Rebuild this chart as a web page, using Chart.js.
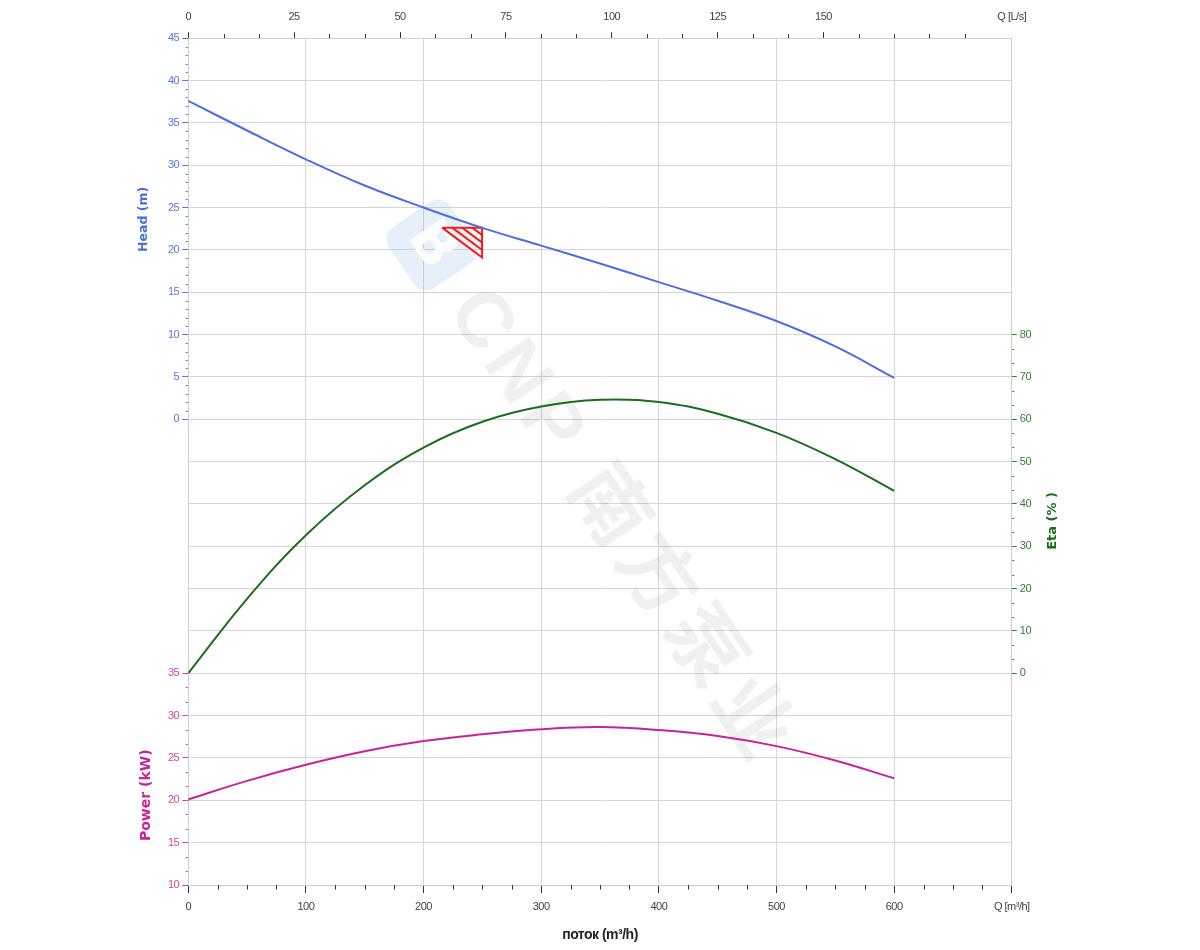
<!DOCTYPE html>
<html><head><meta charset="utf-8">
<script src="https://cdn.jsdelivr.net/npm/chart.js@4.4.1/dist/chart.umd.min.js"></script>
<style>html,body{margin:0;padding:0;background:#fff}#wrap{width:1200px;height:950px}</style>
</head><body><div id="wrap"><canvas id="c" width="1200" height="950"></canvas></div>
<script>
// ---- data ----
const flowM3h = [0, 50, 100, 150, 200, 250, 300, 350, 400, 450, 500, 550, 600];
const headM   = [37.6, 34.1, 30.7, 27.6, 25.0, 22.6, 20.5, 18.4, 16.2, 14.0, 11.6, 8.6, 4.9];
const etaPct  = [0, 17.6, 32.6, 44.4, 53.3, 59.4, 63.0, 64.6, 64.1, 61.3, 56.8, 50.6, 43.1];
const powerKW = [20.1, 22.3, 24.2, 25.8, 27.0, 27.8, 28.4, 28.65, 28.3, 27.6, 26.4, 24.7, 22.6];
// duty-point tolerance triangle (Q m3/h, H m) and its hatch lines
const triangleQ = [215.8, 249.8, 249.8, 215.8];
const triangleH = [22.63, 22.63, 19.09, 22.63];
const hatchQ = [[224.3, 249.8], [232.8, 249.8], [241.3, 249.8]];
const hatchH = [[22.63, 19.98], [22.63, 20.86], [22.63, 21.75]];
// tick labels
const flowTicks  = [0, 100, 200, 300, 400, 500, 600];
const lpsTicks   = [0, 25, 50, 75, 100, 125, 150];
const headTicks  = [0, 5, 10, 15, 20, 25, 30, 35, 40, 45];
const powerTicks = [10, 15, 20, 25, 30, 35];
const etaTicks   = [0, 10, 20, 30, 40, 50, 60, 70, 80];
const flowEndLabel = 'Q [m³/h]';
const lpsEndLabel = 'Q [L/s]';

// ---- axis ranges (stacked panels on one grid) ----
const FLOW_MAX = 700, LPS_MAX = 700 / 3.6;
const H_MIN = -55, H_MAX = 45, P_MIN = 10, P_MAX = 110, E_MIN = -50, E_MAX = 150;

// ---- styles ----
const C_HEAD = '#4a6fe3', C_HEAD_T = '#5577e0';
const C_ETA = '#1b6e1b', C_ETA_T = '#2f7f2f';
const C_POW = '#c8239a', C_POW_T = '#d0479f';
const C_RED = '#ee1c1c';
const GRID = '#d6d6d6';
function hasFont(name) {
  const c = document.createElement('canvas').getContext('2d');
  const s = 'abcdefghijklmnop0123456789';
  c.font = '20px monospace'; const w1 = c.measureText(s).width;
  c.font = "20px '" + name + "', monospace"; const w2 = c.measureText(s).width;
  return Math.abs(w1 - w2) > 0.5;
}
const HAS_NARROW = hasFont('Liberation Sans Narrow');
const NARROW = HAS_NARROW ? "'Liberation Sans Narrow',sans-serif" : "'Liberation Sans',Arial,sans-serif";
const SPACING = HAS_NARROW ? '0px' : '-0.5px';
const WIDE = "'DejaVu Sans',Verdana,sans-serif";

const pts = (xs, ys) => xs.map((x, i) => ({x, y: ys[i]}));
const curve = (label, ys, axis, color) => ({
  label, data: pts(flowM3h, ys), yAxisID: axis, borderColor: color, borderWidth: 2,
  pointRadius: 0, tension: 0.4, fill: false
});
const redLine = (xs, ys) => ({
  data: pts(xs, ys), yAxisID: 'yH', borderColor: C_RED, borderWidth: 2,
  pointRadius: 0, tension: 0, fill: false, borderJoinStyle: 'miter'
});

const datasets = [
  curve('Head', headM, 'yH', C_HEAD),
  curve('Eta', etaPct, 'yE', C_ETA),
  curve('Power', powerKW, 'yP', C_POW),
  redLine(triangleQ, triangleH),
  ...hatchQ.map((q, i) => redLine(q, hatchH[i]))
];

const spacing = {
  id: 'spacing',
  beforeLayout(chart) { chart.ctx.letterSpacing = SPACING; },
  beforeDraw(chart) { chart.ctx.letterSpacing = SPACING; }
};

const watermark = {
  id: 'watermark',
  beforeDatasetsDraw(chart) {
    const ctx = chart.ctx;
    ctx.save();
    ctx.letterSpacing = '0px';
    ctx.translate(432, 245);
    ctx.rotate(56 * Math.PI / 180);
    ctx.fillStyle = 'rgba(110,165,220,0.17)';
    ctx.beginPath();
    ctx.roundRect(-37, -37, 74, 74, 15);
    ctx.fill();
    ctx.fillStyle = 'rgba(255,255,255,0.85)';
    ctx.font = "bold 56px 'DejaVu Sans',sans-serif";
    ctx.textAlign = 'center'; ctx.textBaseline = 'middle';
    ctx.fillText('B', 0, 2);
    ctx.fillStyle = 'rgba(0,0,0,0.06)';
    ctx.textAlign = 'left';
    ctx.letterSpacing = '7px';
    ctx.font = "bold 78px 'Liberation Sans',Arial,'Noto Sans CJK SC',sans-serif";
    ctx.fillText('CNP 南方泵业', 62, 3);
    ctx.restore();
  }
};

const extras = {
  id: 'extras',
  afterDraw(chart) {
    const {ctx, chartArea: a, scales: s} = chart;
    ctx.save();
    ctx.letterSpacing = '0px';
    ctx.lineWidth = 1;
    const seg = (x1, y1, x2, y2) => { ctx.beginPath(); ctx.moveTo(x1, y1); ctx.lineTo(x2, y2); ctx.stroke(); };
    // bottom minor ticks every 25 m3/h
    ctx.strokeStyle = '#333';
    for (let v = 25; v < FLOW_MAX; v += 25) {
      if (v % 100 === 0) continue;
      const x = Math.round(s.x.getPixelForValue(v)) + 0.5;
      seg(x, a.bottom, x, a.bottom + 4.5);
    }
    // top minor ticks every 25/3 L/s
    for (let k = 1; k <= 22; k++) {
      if (k % 3 === 0 && k <= 18) continue;
      const x = Math.round(s.xTop.getPixelForValue(k * 25 / 3)) + 0.5;
      seg(x, a.top, x, a.top - 4);
    }
    // head minor ticks (1 m)
    ctx.strokeStyle = C_HEAD_T;
    for (let v = 1; v < 45; v++) {
      if (v % 5 === 0) continue;
      const y = Math.round(s.yH.getPixelForValue(v)) + 0.5;
      seg(a.left - 2.5, y, a.left - 0.5, y);
    }
    // power minor ticks (5/3 kW)
    ctx.strokeStyle = C_POW_T;
    for (let k = 1; k < 15; k++) {
      if (k % 3 === 0) continue;
      const y = Math.round(s.yP.getPixelForValue(10 + k * 5 / 3)) + 0.5;
      seg(a.left - 2.5, y, a.left - 0.5, y);
    }
    // eta minor ticks (10/3 %)
    ctx.strokeStyle = C_ETA_T;
    for (let k = 1; k < 24; k++) {
      if (k % 3 === 0) continue;
      const y = Math.round(s.yE.getPixelForValue(k * 10 / 3)) + 0.5;
      seg(a.right + 0.5, y, a.right + 2.5, y);
    }
    // rotated axis titles
    const vtitle = (text, x, y, color, size) => {
      ctx.save();
      ctx.translate(x, y); ctx.rotate(-Math.PI / 2);
      ctx.fillStyle = color; ctx.font = 'bold ' + size + 'px ' + WIDE;
      ctx.textAlign = 'center'; ctx.textBaseline = 'middle';
      ctx.fillText(text, 0, 0);
      ctx.restore();
    };
    vtitle('Head (m)', a.left - 44, s.yH.getPixelForValue(23.6), C_HEAD, 12.5);
    vtitle('Power (kW)', a.left - 42, s.yP.getPixelForValue(20.6), C_POW, 14);
    vtitle('Eta (% )', a.right + 41, s.yE.getPixelForValue(36), C_ETA, 13);
    ctx.restore();
  }
};

const tickFont = {family: NARROW, size: 11};

new Chart(document.getElementById('c'), {
  type: 'line',
  data: {datasets},
  options: {
    responsive: false, animation: false, devicePixelRatio: 1,
    layout: {padding: {left: 165, right: 166, top: 1, bottom: 0}},
    plugins: {legend: {display: false}, tooltip: {enabled: false}},
    scales: {
      x: {
        type: 'linear', position: 'bottom', min: 0, max: FLOW_MAX,
        afterBuildTicks: sc => { sc.ticks = flowTicks.concat([FLOW_MAX]).map(v => ({value: v})); },
        ticks: {autoSkip: false, maxRotation: 0, font: tickFont, color: '#444', padding: 7,
          callback: v => v === FLOW_MAX ? flowEndLabel : String(v)},
        grid: {color: GRID, tickColor: '#333', tickLength: 8},
        border: {color: '#cfcfcf'},
        title: {display: true, text: 'поток (m³/h)', color: '#222',
          font: {family: NARROW, size: 14, weight: 'bold'}, padding: {top: 7, bottom: 6}}
      },
      xTop: {
        type: 'linear', position: 'top', min: 0, max: LPS_MAX,
        afterBuildTicks: sc => { sc.ticks = lpsTicks.concat([LPS_MAX]).map(v => ({value: v})); },
        ticks: {autoSkip: false, maxRotation: 0, font: tickFont, color: '#444', padding: 9,
          callback: v => v === LPS_MAX ? lpsEndLabel : String(v)},
        grid: {drawOnChartArea: false, tickColor: ctx => ctx.tick && ctx.tick.value === LPS_MAX ? 'rgba(0,0,0,0)' : '#333', tickLength: 6},
        border: {color: '#cfcfcf'}
      },
      yH: {
        type: 'linear', position: 'left', min: H_MIN, max: H_MAX,
        afterBuildTicks: sc => { const t = []; for (let v = H_MIN; v <= H_MAX; v += 5) t.push({value: v}); sc.ticks = t; },
        ticks: {
          autoSkip: false, font: tickFont, padding: 3,
          color: ctx => (ctx.tick && ctx.tick.value >= 0) ? C_HEAD_T : C_POW_T,
          callback: v => {
            if (headTicks.includes(v)) return String(v);
            const p = Math.round(P_MIN + (v - H_MIN) * (P_MAX - P_MIN) / (H_MAX - H_MIN));
            return powerTicks.includes(p) ? String(p) : '';
          }
        },
        grid: {
          color: GRID, tickLength: 6,
          tickColor: ctx => {
            const v = ctx.tick ? ctx.tick.value : 0;
            if (v >= 0) return C_HEAD_T;
            const p = Math.round(P_MIN + (v - H_MIN) * (P_MAX - P_MIN) / (H_MAX - H_MIN));
            return powerTicks.includes(p) ? C_POW_T : 'rgba(0,0,0,0)';
          }
        },
        border: {color: '#cfcfcf'}
      },
      yP: {type: 'linear', display: false, min: P_MIN, max: P_MAX},
      yE: {
        type: 'linear', position: 'right', min: E_MIN, max: E_MAX,
        afterBuildTicks: sc => { sc.ticks = etaTicks.map(v => ({value: v})); },
        ticks: {autoSkip: false, font: tickFont, padding: 3, color: C_ETA_T},
        grid: {drawOnChartArea: false, tickColor: C_ETA_T, tickLength: 5},
        border: {color: '#cfcfcf'}
      }
    }
  },
  plugins: [spacing, watermark, extras]
});
</script>
</body></html>
